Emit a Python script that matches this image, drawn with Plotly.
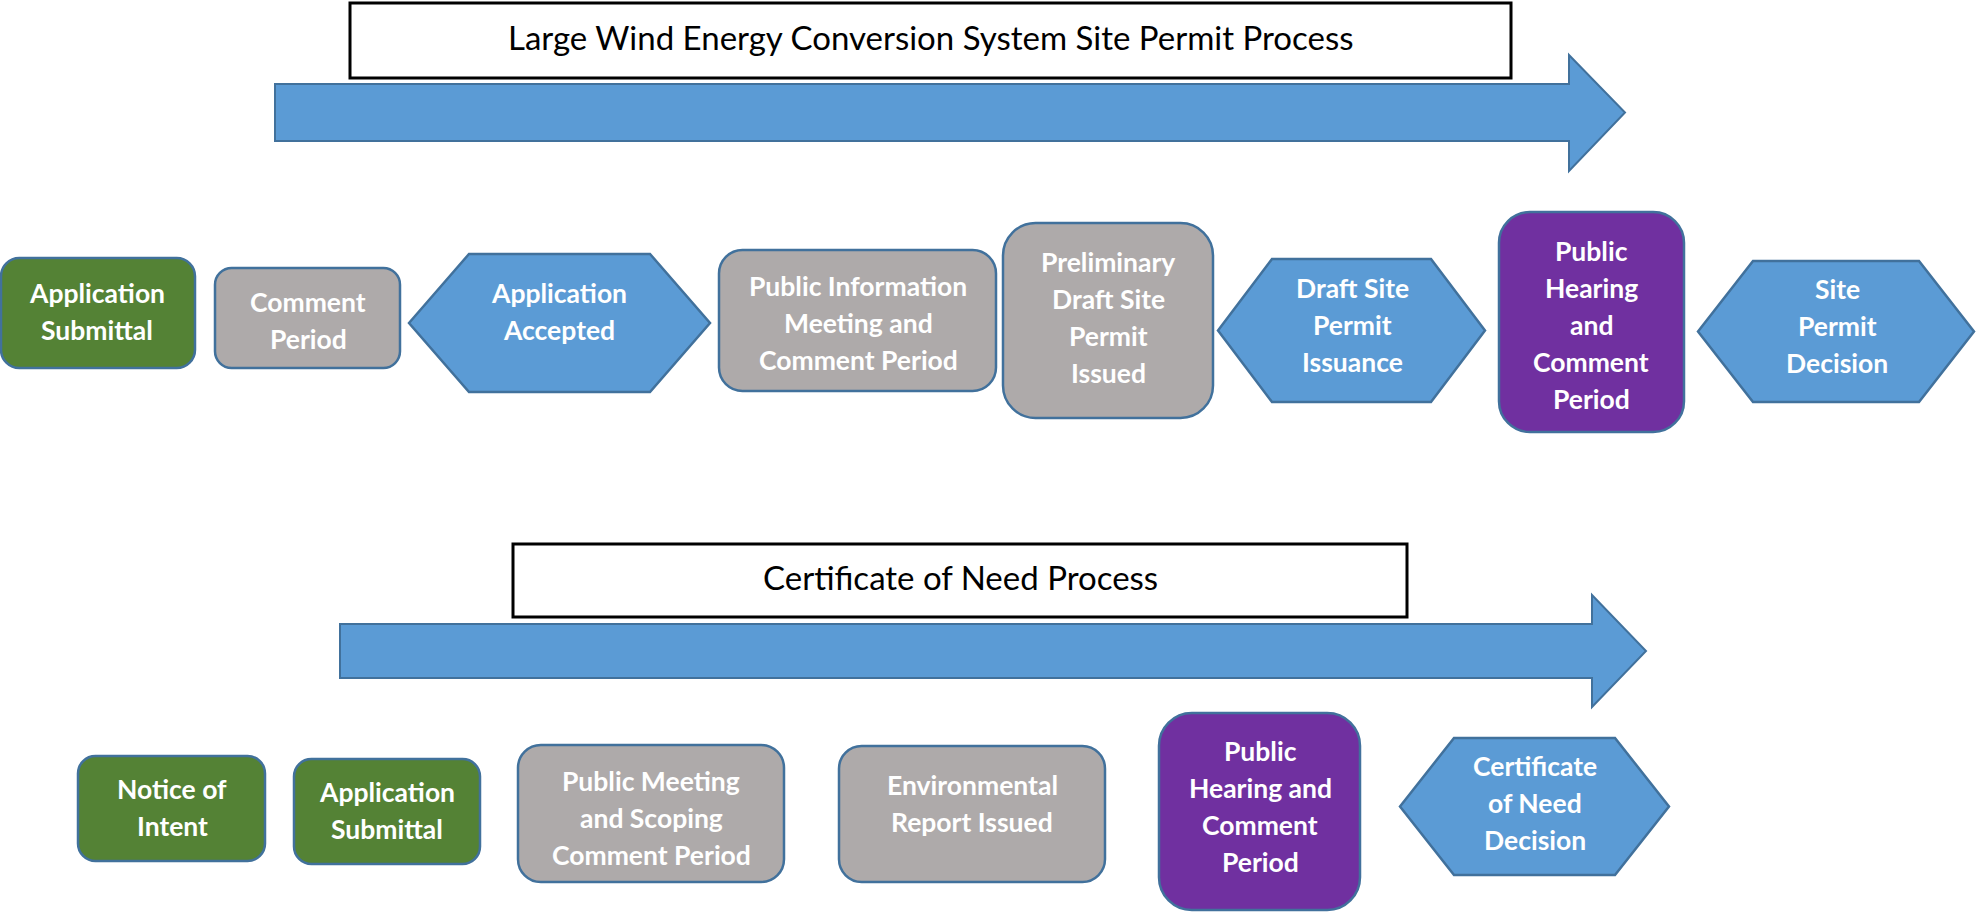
import plotly.graph_objects as go

W, H = 1979, 913

# ---------------- data ----------------
titles = ["Large Wind Energy Conversion System Site Permit Process", "Certificate of Need Process"]

site_labels = [
    ["Application", "Submittal"],
    ["Comment", "Period"],
    ["Application", "Accepted"],
    ["Public Information", "Meeting and", "Comment Period"],
    ["Preliminary", "Draft Site", "Permit", "Issued"],
    ["Draft Site", "Permit", "Issuance"],
    ["Public", "Hearing", "and", "Comment", "Period"],
    ["Site", "Permit", "Decision"],
]
site_kinds = ["submit", "comment", "milestone", "comment", "comment", "milestone", "hearing", "milestone"]

con_labels = [
    ["Notice of", "Intent"],
    ["Application", "Submittal"],
    ["Public Meeting", "and Scoping", "Comment Period"],
    ["Environmental", "Report Issued"],
    ["Public", "Hearing and", "Comment", "Period"],
    ["Certificate", "of Need", "Decision"],
]
con_kinds = ["submit", "submit", "comment", "comment", "hearing", "milestone"]

# ---------------- styles ----------------
fills = {"submit": "#548235", "comment": "#AEAAAA", "milestone": "#5B9BD5", "hearing": "#7030A0"}
shapes_of = {"submit": "round", "comment": "round", "milestone": "hex", "hearing": "round"}
EDGE = "#41719C"
FONT = "Lato"

# ---------------- geometry (pixels) ----------------
site_geom = [
    (1, 195, 258, 368), (215, 400, 268, 368), (409, 710, 254, 392, 60),
    (719, 996, 250, 391), (1003, 1213, 223, 418), (1218, 1485, 259, 402, 54),
    (1499, 1684, 212, 432), (1698, 1974, 261, 402, 55),
]
site_text = [(97, 293), (308, 302), (559, 293), (858, 286), (1108, 262), (1352, 288), (1591, 251), (1837, 289)]

con_geom = [
    (78, 265, 756, 861), (294, 480, 759, 864), (518, 784, 745, 882),
    (839, 1105, 746, 882), (1159, 1360, 713, 910), (1400, 1669, 738, 875, 54),
]
con_text = [(172, 789), (387, 792), (651, 781), (972, 785), (1260, 751), (1535, 766)]

title_geom = [(350, 1511, 3, 78), (513, 1407, 544, 617)]
title_text_y = [37, 577]
arrow_geom = [  # body x0, head base x, tip x, body y0, body y1, head y0, head y1
    (275, 1569, 1625, 84, 141, 55, 171),
    (340, 1592, 1646, 624, 678, 595, 707),
]
LINE_STEP = 37


def rounded(x0, x1, y0, y1):
    r = 0.1667 * min(x1 - x0, y1 - y0)
    k = 0.5523 * r
    return (f"M{x0+r},{y0} L{x1-r},{y0} C{x1-r+k},{y0} {x1},{y0+r-k} {x1},{y0+r} "
            f"L{x1},{y1-r} C{x1},{y1-r+k} {x1-r+k},{y1} {x1-r},{y1} "
            f"L{x0+r},{y1} C{x0+r-k},{y1} {x0},{y1-r+k} {x0},{y1-r} "
            f"L{x0},{y0+r} C{x0},{y0+r-k} {x0+r-k},{y0} {x0+r},{y0} Z")


def hexagon(x0, x1, y0, y1, inset):
    ym = (y0 + y1) / 2
    return (f"M{x0},{ym} L{x0+inset},{y0} L{x1-inset},{y0} L{x1},{ym} "
            f"L{x1-inset},{y1} L{x0+inset},{y1} Z")


shapes = []
annotations = []

# title boxes
for (x0, x1, y0, y1), ty, t in zip(title_geom, title_text_y, titles):
    shapes.append(dict(type="rect", xref="x", yref="y", x0=x0, x1=x1, y0=y0, y1=y1,
                       line=dict(color="#000000", width=3), fillcolor="#FFFFFF"))
    annotations.append(dict(x=(x0 + x1) / 2, y=ty, xref="x", yref="y", text=t,
                            showarrow=False, xanchor="center", yanchor="middle",
                            font=dict(family=FONT, size=33, color="#000000")))

# arrows
for bx0, hb, tip, by0, by1, hy0, hy1 in arrow_geom:
    ym = (by0 + by1) / 2
    path = (f"M{bx0},{by0} L{hb},{by0} L{hb},{hy0} L{tip},{ym} L{hb},{hy1} "
            f"L{hb},{by1} L{bx0},{by1} Z")
    shapes.append(dict(type="path", path=path, xref="x", yref="y",
                       fillcolor="#5B9BD5", line=dict(color=EDGE, width=2)))

# nodes
for labels, kinds, geoms, texts in [(site_labels, site_kinds, site_geom, site_text),
                                    (con_labels, con_kinds, con_geom, con_text)]:
    for lab, kind, g, (tx, ty) in zip(labels, kinds, geoms, texts):
        if shapes_of[kind] == "hex":
            path = hexagon(*g)
        else:
            path = rounded(*g)
        shapes.append(dict(type="path", path=path, xref="x", yref="y",
                           fillcolor=fills[kind], line=dict(color=EDGE, width=2.5)))
        for i, line in enumerate(lab):
            annotations.append(dict(x=tx, y=ty + i * LINE_STEP, xref="x", yref="y", text=f"<b>{line}</b>",
                                    showarrow=False, xanchor="center", yanchor="middle",
                                    font=dict(family=FONT, size=26.5, color="#FFFFFF")))

fig = go.Figure()
fig.update_layout(
    width=W, height=H, autosize=False,
    margin=dict(l=0, r=0, t=0, b=0, pad=0),
    paper_bgcolor="#FFFFFF", plot_bgcolor="#FFFFFF",
    xaxis=dict(range=[0, W], visible=False, fixedrange=True),
    yaxis=dict(range=[H, 0], visible=False, fixedrange=True),
    shapes=shapes, annotations=annotations, showlegend=False,
)
fig.write_html("out.html", config={"displayModeBar": False, "staticPlot": True},
               post_script="document.body.style.margin='0';document.body.style.overflow='hidden';")
